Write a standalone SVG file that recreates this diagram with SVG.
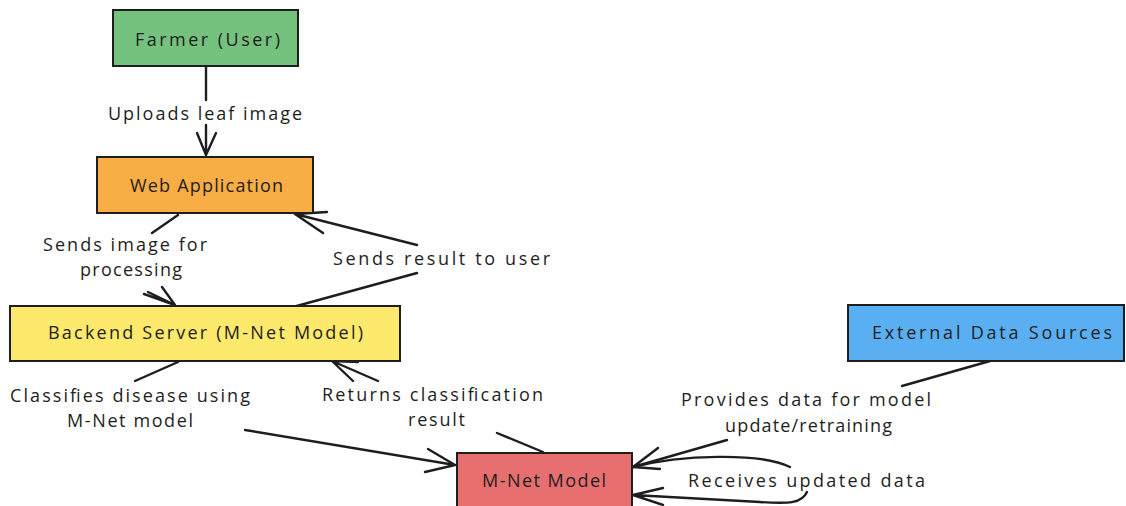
<svg xmlns="http://www.w3.org/2000/svg" width="1126" height="506" viewBox="0 0 1126 506">
  <style>
    .box { stroke: #1e1e1e; stroke-width: 2; }
    .t { font-family: "Open Sans", "Liberation Sans", "DejaVu Sans", sans-serif; font-size: 18px; fill: #1e1e1e; }
    .c { fill: none; stroke: #1e1e1e; stroke-width: 2.4; stroke-linecap: round; stroke-linejoin: round; }
  </style>
  <rect width="1126" height="506" fill="#ffffff"/>

  <g id="connectors">
    <!-- Farmer -> Web App -->
    <path class="c" d="M206,66 V100 M206,125 V155 M197,133 L206,155 L216,133"/>
    <!-- Web App -> Backend -->
    <path class="c" d="M178,215 L152,233 M148,292 L175,305 M144,294 L175,305 L162,287"/>
    <!-- Backend -> Web App -->
    <path class="c" d="M293,307 L417,273 M417,245 L295,214 M327,212 L295,214 L323,233"/>
    <!-- Backend -> M-Net -->
    <path class="c" d="M178,362 L135,381 M245,430 L455,465 M428,449 L455,465 L425,472"/>
    <!-- M-Net -> Backend -->
    <path class="c" d="M543,452 L497,433 M378,381 L332,361 M353,381 L332,361 L358,362"/>
    <!-- External -> M-Net -->
    <path class="c" d="M990,361 L902,386 M727,440 L633,467 M658,448 L633,467 L660,469"/>
    <!-- M-Net self loop -->
    <path class="c" d="M633,467 C680,455 760,452 790,467 M807,492 C802,503 790,504 760,502 L633,495 M663,488 L633,495 L663,505"/>
  </g>

  <g id="labels">
    <text class="t" x="108" y="120" textLength="194">Uploads leaf image</text>
    <text class="t" x="43" y="251" textLength="164">Sends image for</text>
    <text class="t" x="80" y="276" textLength="102">processing</text>
    <text class="t" x="333" y="265" textLength="217">Sends result to user</text>
    <text class="t" x="10" y="402" textLength="240">Classifies disease using</text>
    <text class="t" x="67" y="427" textLength="126">M-Net model</text>
    <text class="t" x="322" y="401" textLength="221">Returns classification</text>
    <text class="t" x="408" y="426" textLength="57">result</text>
    <text class="t" x="681" y="406" textLength="250">Provides data for model</text>
    <text class="t" x="725" y="432" textLength="167">update/retraining</text>
    <text class="t" x="688" y="487" textLength="237">Receives updated data</text>
  </g>

  <g id="farmer">
    <rect class="box" x="113" y="10" width="185" height="56" fill="#74c27e"/>
    <text class="t" x="135" y="46" textLength="145">Farmer (User)</text>
  </g>
  <g id="webapp">
    <rect class="box" x="97" y="157" width="216" height="56" fill="#f9ad45"/>
    <text class="t" x="130" y="192" textLength="153">Web Application</text>
  </g>
  <g id="backend">
    <rect class="box" x="10" y="306" width="390" height="55" fill="#fde96b"/>
    <text class="t" x="48" y="339" textLength="315">Backend Server (M-Net Model)</text>
  </g>
  <g id="external">
    <rect class="box" x="848" y="305" width="276" height="56" fill="#5aaff2"/>
    <text class="t" x="872" y="339" textLength="240">External Data Sources</text>
  </g>
  <g id="mnet">
    <rect class="box" x="457" y="453" width="175" height="60" fill="#e76f6f"/>
    <text class="t" x="482" y="487" textLength="124">M-Net Model</text>
  </g>
</svg>
